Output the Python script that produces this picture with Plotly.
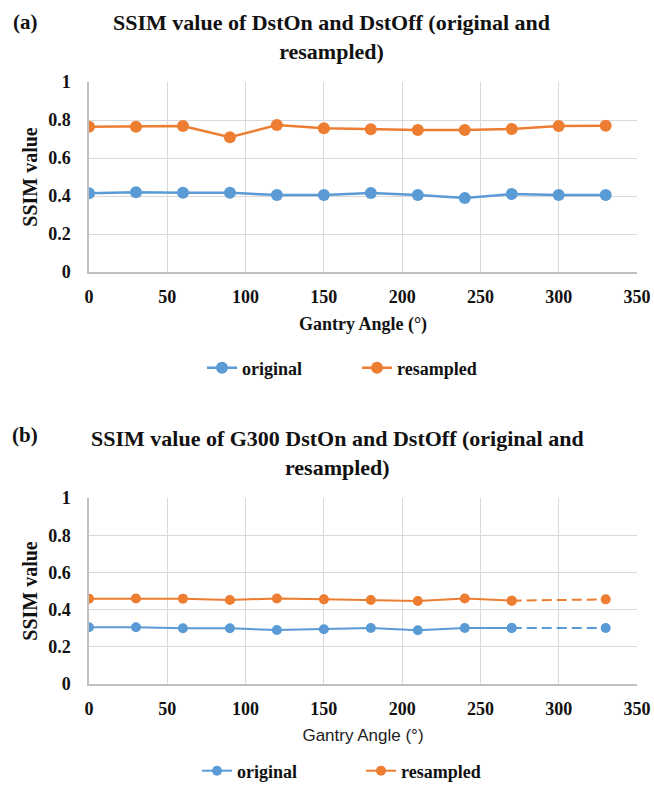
import plotly.graph_objects as go

angles_a = [0, 30, 60, 90, 120, 150, 180, 210, 240, 270, 300, 330]
orig_a = [0.414, 0.42, 0.417, 0.417, 0.405, 0.405, 0.416, 0.405, 0.39, 0.41, 0.405, 0.405]
resa_a = [0.765, 0.765, 0.768, 0.709, 0.774, 0.756, 0.751, 0.747, 0.747, 0.753, 0.768, 0.77]

angles_b = [0, 30, 60, 90, 120, 150, 180, 210, 240, 270, 330]
orig_b = [0.305, 0.305, 0.30, 0.30, 0.29, 0.294, 0.301, 0.289, 0.301, 0.301, 0.301]
resa_b = [0.459, 0.46, 0.459, 0.452, 0.46, 0.455, 0.452, 0.446, 0.46, 0.448, 0.455]

x_ticks = [0, 50, 100, 150, 200, 250, 300, 350]
y_ticks = [0, 0.2, 0.4, 0.6, 0.8, 1]
y_ticktext = ["0", "0.2", "0.4", "0.6", "0.8", "1"]

BLUE = "#5B9BD5"
ORANGE = "#ED7D31"
SERIF = "Liberation Serif"
INK = "#111111"
W, H = 654, 786

fig = go.Figure()

# Chart (a)
fig.add_trace(go.Scatter(x=angles_a, y=orig_a, mode="lines+markers", name="original",
                         line=dict(color=BLUE, width=2.5), marker=dict(size=12, color=BLUE),
                         xaxis="x", yaxis="y", legend="legend"))
fig.add_trace(go.Scatter(x=angles_a, y=resa_a, mode="lines+markers", name="resampled",
                         line=dict(color=ORANGE, width=2.5), marker=dict(size=12, color=ORANGE),
                         xaxis="x", yaxis="y", legend="legend"))

# Chart (b): solid up to 270, dashed 270 -> 330
n_solid = 10
fig.add_trace(go.Scatter(x=angles_b[:n_solid], y=orig_b[:n_solid], mode="lines+markers", name="original",
                         line=dict(color=BLUE, width=2), marker=dict(size=10, color=BLUE),
                         xaxis="x2", yaxis="y2", legend="legend2"))
fig.add_trace(go.Scatter(x=angles_b[n_solid - 1:], y=orig_b[n_solid - 1:], mode="lines+markers",
                         line=dict(color=BLUE, width=2, dash="10px,5px"), marker=dict(size=10, color=BLUE),
                         xaxis="x2", yaxis="y2", showlegend=False))
fig.add_trace(go.Scatter(x=angles_b[:n_solid], y=resa_b[:n_solid], mode="lines+markers", name="resampled",
                         line=dict(color=ORANGE, width=2), marker=dict(size=10, color=ORANGE),
                         xaxis="x2", yaxis="y2", legend="legend2"))
fig.add_trace(go.Scatter(x=angles_b[n_solid - 1:], y=resa_b[n_solid - 1:], mode="lines+markers",
                         line=dict(color=ORANGE, width=2, dash="10px,5px"), marker=dict(size=10, color=ORANGE),
                         xaxis="x2", yaxis="y2", showlegend=False))

xd = [89 / W, 637 / W]
ya = [1 - 272 / H, 1 - 82 / H]
yb = [1 - 684 / H, 1 - 498 / H]

tickfont = dict(family=SERIF, size=18, color=INK, weight="bold")
common_x = dict(range=[0, 350], tickvals=x_ticks, showgrid=True, gridcolor="#d9d9d9", gridwidth=1,
                showline=True, linecolor="#bfbfbf", linewidth=1.5, zeroline=False,
                tickfont=tickfont, ticks="", ticklabelstandoff=8, automargin=False)
common_y = dict(range=[0, 1], tickvals=y_ticks, ticktext=y_ticktext, showgrid=True, gridcolor="#d9d9d9",
                gridwidth=1, showline=True, linecolor="#bfbfbf", linewidth=1.5, zeroline=False,
                tickfont=tickfont, ticks="", ticklabelstandoff=13, automargin=False)

legfont = dict(family=SERIF, size=18, color=INK, weight="bold")

fig.update_layout(
    width=W, height=H,
    margin=dict(l=0, r=0, t=0, b=0, autoexpand=False),
    paper_bgcolor="white", plot_bgcolor="white",
    xaxis=dict(domain=xd, anchor="y", **common_x,
               title=dict(text="Gantry Angle (°)", font=dict(family=SERIF, size=18, color=INK, weight="bold"),
                          standoff=11)),
    yaxis=dict(domain=ya, anchor="x", **common_y,
               title=dict(text="SSIM value", font=dict(family=SERIF, size=20, color=INK, weight="bold"),
                          standoff=5)),
    xaxis2=dict(domain=xd, anchor="y2", **common_x,
                title=dict(text="Gantry Angle (°)", font=dict(family="Liberation Sans", size=17, color="#222"),
                           standoff=11)),
    yaxis2=dict(domain=yb, anchor="x2", **common_y,
                title=dict(text="SSIM value", font=dict(family=SERIF, size=20, color=INK, weight="bold"),
                           standoff=5)),
    legend=dict(orientation="h", x=202 / W, y=1 - 368 / H, xanchor="left", yanchor="middle",
                font=legfont, entrywidth=110, bgcolor="rgba(0,0,0,0)"),
    legend2=dict(orientation="h", x=197 / W, y=1 - 771 / H, xanchor="left", yanchor="middle",
                 font=legfont, entrywidth=119, bgcolor="rgba(0,0,0,0)"),
    annotations=[
        dict(text="<b>(a)</b>", x=25 / W, y=1 - 22 / H, xref="paper", yref="paper", showarrow=False,
             xanchor="center", yanchor="middle", font=dict(family=SERIF, size=21, color=INK)),
        dict(text="<b>SSIM value of DstOn and DstOff (original and<br>resampled)</b>",
             x=331 / W, y=1 - 37 / H, xref="paper", yref="paper", showarrow=False,
             xanchor="center", yanchor="middle", align="center",
             font=dict(family=SERIF, size=22, color=INK)),
        dict(text="<b>(b)</b>", x=25 / W, y=1 - 435 / H, xref="paper", yref="paper", showarrow=False,
             xanchor="center", yanchor="middle", font=dict(family=SERIF, size=21, color=INK)),
        dict(text="<b>SSIM value of G300 DstOn and DstOff (original and<br>resampled)</b>",
             x=337 / W, y=1 - 453 / H, xref="paper", yref="paper", showarrow=False,
             xanchor="center", yanchor="middle", align="center",
             font=dict(family=SERIF, size=22, color=INK)),
    ],
)

fig.write_html("out.html", config={"displayModeBar": False},
               post_script="document.body.style.margin='0';")
